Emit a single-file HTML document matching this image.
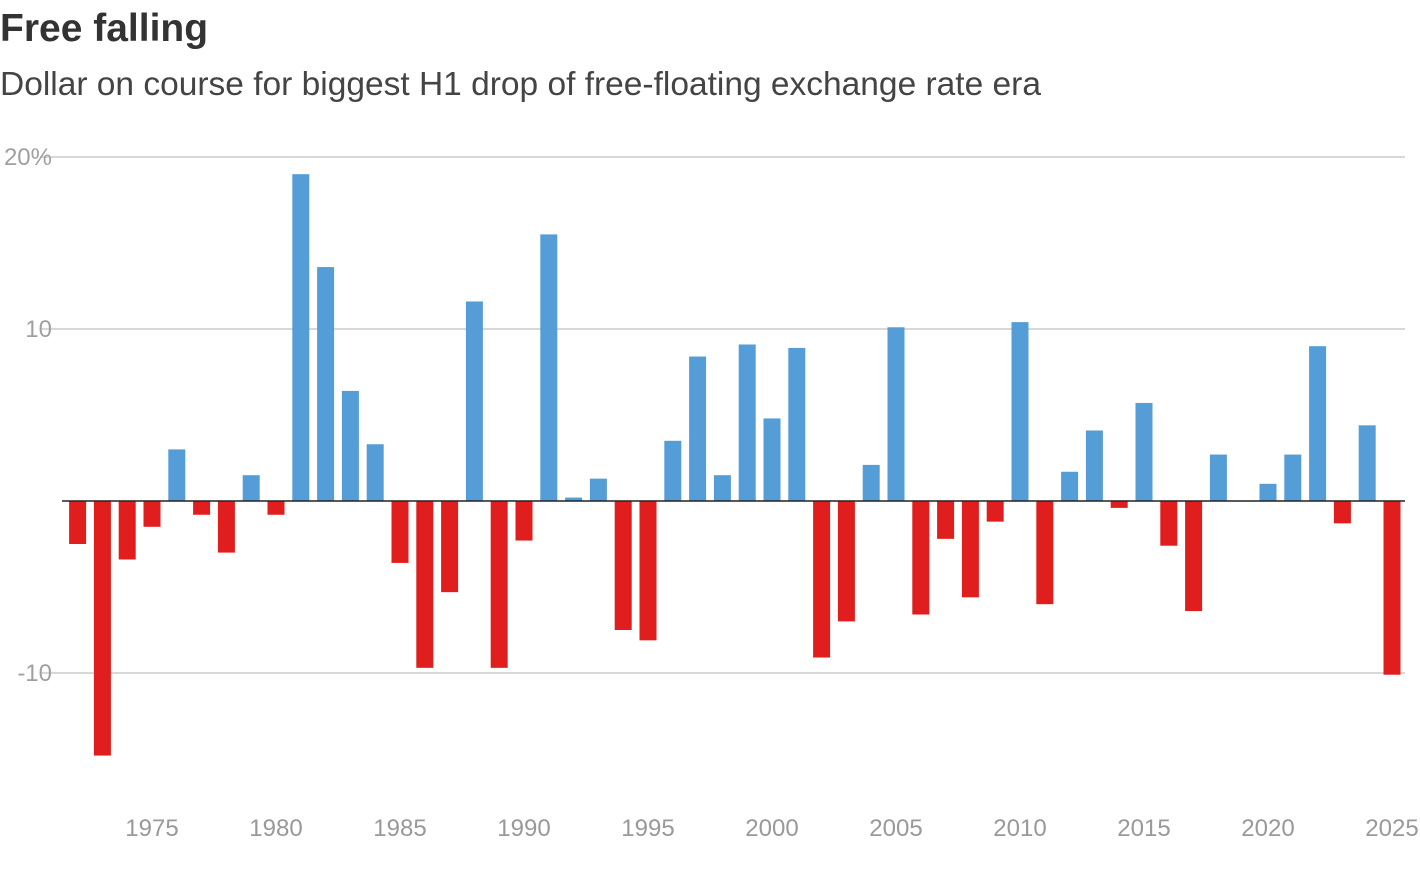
<!DOCTYPE html>
<html><head><meta charset="utf-8"><style>
html,body{margin:0;padding:0;background:#fff;width:1420px;height:869px;overflow:hidden;font-family:"Liberation Sans",sans-serif}
#title{position:absolute;left:0;top:7px;font-size:39px;font-weight:bold;color:#333}
#sub{position:absolute;left:0;top:66px;font-size:33.5px;color:#444}
svg{position:absolute;left:0;top:0}
</style></head><body>
<div id="title">Free falling</div>
<div id="sub">Dollar on course for biggest H1 drop of free-floating exchange rate era</div>
<svg id="c" width="1420" height="869"></svg>
<script>
const years=[1972,1973,1974,1975,1976,1977,1978,1979,1980,1981,1982,1983,1984,1985,1986,1987,1988,1989,1990,1991,1992,1993,1994,1995,1996,1997,1998,1999,2000,2001,2002,2003,2004,2005,2006,2007,2008,2009,2010,2011,2012,2013,2014,2015,2016,2017,2018,2019,2020,2021,2022,2023,2024,2025];
const values=[-2.5,-14.8,-3.4,-1.5,3.0,-0.8,-3.0,1.5,-0.8,19.0,13.6,6.4,3.3,-3.6,-9.7,-5.3,11.6,-9.7,-2.3,15.5,0.2,1.3,-7.5,-8.1,3.5,8.4,1.5,9.1,4.8,8.9,-9.1,-7.0,2.1,10.1,-6.6,-2.2,-5.6,-1.2,10.4,-6.0,1.7,4.1,-0.4,5.7,-2.6,-6.4,2.7,0,1.0,2.7,9.0,-1.3,4.4,-10.1];
const yTicks=[20,10,-10];
const yTickLabels=["20%","10","-10"];
const xTicks=[1975,1980,1985,1990,1995,2000,2005,2010,2015,2020,2025];
const NS="http://www.w3.org/2000/svg";
const svg=document.getElementById('c');
const y=v=>501-v*17.2;
const x=yr=>152+(yr-1975)*24.8;
function mk(t,a){const e=document.createElementNS(NS,t);for(const k in a)e.setAttribute(k,a[k]);svg.appendChild(e);return e;}
yTicks.forEach((t,i)=>{
  const l=mk('line',{x1:40,x2:1405,y1:y(t),y2:y(t),stroke:'#ccc','stroke-width':1.5});
  
  
  const tx=mk('text',{x:52,y:y(t)+8,'text-anchor':'end','font-size':24,fill:'#a0a0a0','font-family':'Liberation Sans, sans-serif'});
  tx.textContent=yTickLabels[i];
  
  
});
years.forEach((yr,i)=>{
  const v=values[i];
  const r=mk('rect',{x:x(yr)-8.5,y:Math.min(y(v),y(0)),width:17,height:Math.abs(y(v)-y(0)),fill:v>=0?'#559dd6':'#e01e1e'});
  
  
});
const z=mk('line',{x1:62,x2:1405,y1:y(0),y2:y(0),stroke:'#222','stroke-width':1.5});


xTicks.forEach(t=>{
  const tx=mk('text',{x:x(t),y:836,'text-anchor':'middle','font-size':24,fill:'#999','font-family':'Liberation Sans, sans-serif'});
  tx.textContent=t;
  
  
});
</script>
</body></html>
